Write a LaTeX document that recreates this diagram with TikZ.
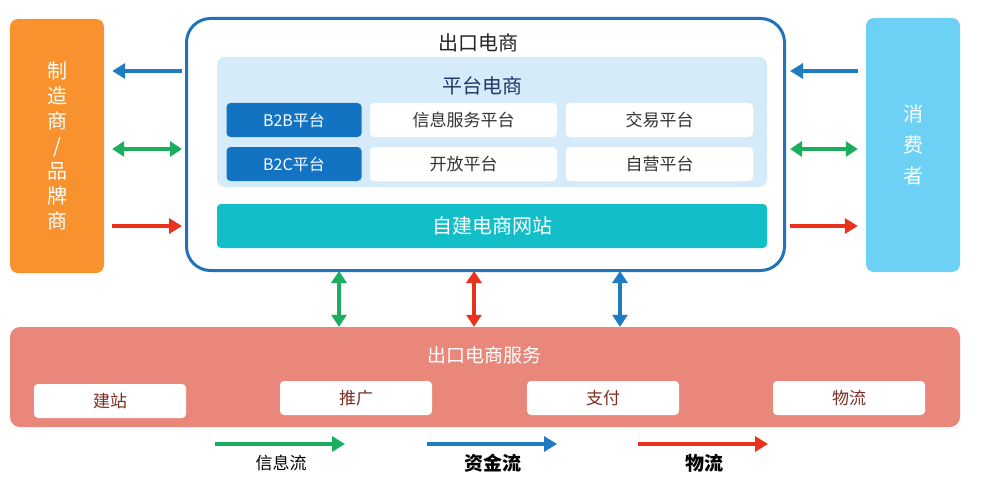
\documentclass[tikz,border=0pt]{standalone}
\usepackage{fontspec}
\setmainfont{Noto Sans CJK SC}
\usetikzlibrary{arrows.meta}
\definecolor{makerorange}{HTML}{F7922E}
\definecolor{userblue}{HTML}{6DD0F5}
\definecolor{frameblue}{HTML}{2273B9}
\definecolor{panelblue}{HTML}{D6EBFA}
\definecolor{tagblue}{HTML}{1373C3}
\definecolor{siteteal}{HTML}{12BEC8}
\definecolor{servsalmon}{HTML}{E8877A}
\definecolor{arrblue}{HTML}{1E7CC2}
\definecolor{arrgreen}{HTML}{1BAE5E}
\definecolor{arrred}{HTML}{E8321E}
\definecolor{navytext}{HTML}{1F3864}
\definecolor{browntext}{HTML}{7A2E24}
\tikzset{
  box/.style={rounded corners=8pt, inner sep=0pt, align=center},
  cell/.style={box, rounded corners=4pt, minimum height=34pt, font=\fontsize{16}{18}\selectfont},
  flow/.style={line width=3.8pt, -{Triangle[length=13pt,width=15pt]}},
  biflow/.style={line width=3.8pt, {Triangle[length=12pt,width=15pt]}-{Triangle[length=12pt,width=15pt]}},
}

\begin{document}
\begin{tikzpicture}[x=1pt,y=-1pt]
  \useasboundingbox (0,0) rectangle (984,476);

  % side boxes
  \node[box, fill=makerorange, text=white, minimum width=94pt, minimum height=254pt,
        font=\fontsize{20}{25}\selectfont] (maker) at (57,146) {制\\造\\商\\/\\品\\牌\\商};
  \node[box, fill=userblue, text=white, minimum width=94pt, minimum height=254pt,
        font=\fontsize{20}{31}\selectfont] (user) at (913,145) {消\\费\\者};

  % export e-commerce
  \node[box, draw=frameblue, line width=3pt, rounded corners=24pt, fill=white,
        minimum width=598pt, minimum height=252pt] (outer) at (485.5,144.5) {};
  \node[font=\fontsize{20}{22}\selectfont, text=black!85] (outertitle) at (478,43) {出口电商};
  \node[box, fill=panelblue, minimum width=550pt, minimum height=130pt] (panel) at (492,122) {};
  \node[font=\fontsize{20}{22}\selectfont, text=navytext] (paneltitle) at (482,86) {平台电商};
  \foreach \y/\nm/\txt in {120/btb/{B2B平台},164/btc/{B2C平台}}
    \node[cell, fill=tagblue, text=white, minimum width=135pt] (\nm) at (294,\y) {\txt};
  \foreach \x/\y/\nm/\txt in {463.5/120/info/{信息服务平台},659.5/120/trade/{交易平台},
                              463.5/164/open/{开放平台},659.5/164/self/{自营平台}}
    \node[cell, fill=white, text=black!80, minimum width=187pt, font=\fontsize{17}{19}\selectfont] (\nm) at (\x,\y) {\txt};
  \node[box, rounded corners=4pt, fill=siteteal, text=white, minimum width=550pt, minimum height=44pt,
        font=\fontsize{20}{22}\selectfont] (site) at (492,226) {自建电商网站};

  % services
  \node[box, rounded corners=10pt, fill=servsalmon, minimum width=950pt, minimum height=100pt] (serv) at (485,377) {};
  \node[text=white, font=\fontsize{19}{21}\selectfont] (servtitle) at (484,355) {出口电商服务};
  \foreach \x/\y/\nm/\txt in {110/401/build/建站,356/398/promo/推广,603/398/pay/支付,849/398/ship/物流}
    \node[cell, fill=white, text=browntext, minimum width=152pt, font=\fontsize{17}{19}\selectfont] (\nm) at (\x,\y) {\txt};

  % arrows left and right
  \draw[flow, arrblue] ([xshift=-3pt]outer.west |- 0,71) -- ([xshift=8pt]maker.east |- 0,71);
  \draw[biflow, arrgreen] ([xshift=-3pt]outer.west |- 0,149) -- ([xshift=8pt]maker.east |- 0,149);
  \draw[flow, arrred] ([xshift=8pt]maker.east |- 0,226) -- ([xshift=-3pt]outer.west |- 0,226);
  \draw[flow, arrblue] ([xshift=-8pt]user.west |- 0,71) -- ([xshift=4pt]outer.east |- 0,71);
  \draw[biflow, arrgreen] ([xshift=4pt]outer.east |- 0,149) -- ([xshift=-8pt]user.west |- 0,149);
  \draw[flow, arrred] ([xshift=4pt]outer.east |- 0,226) -- ([xshift=-8pt]user.west |- 0,226);

  % arrows down
  \foreach \x/\c in {339/arrgreen,474/arrred,620/arrblue}
    \draw[biflow, \c] ([yshift=1pt]outer.south -| \x,0) -- (serv.north -| \x,0);

  % legend
  \foreach \x/\nm/\c/\txt/\f in {215/info/arrgreen/信息流/\fontsize{17}{19}\selectfont,
                                 427/money/arrblue/资金流/\bfseries\fontsize{19}{21}\selectfont,
                                 638/goods/arrred/物流/\bfseries\fontsize{19}{21}\selectfont} {
    \coordinate (\nm a) at (\x,444);
    \coordinate (\nm b) at (\x+130,444);
    \draw[flow, \c] (\nm a) -- (\nm b);
    \node[font=\f] (\nm lab) at (\x+66,463) {\txt};
  }
\end{tikzpicture}
\end{document}
